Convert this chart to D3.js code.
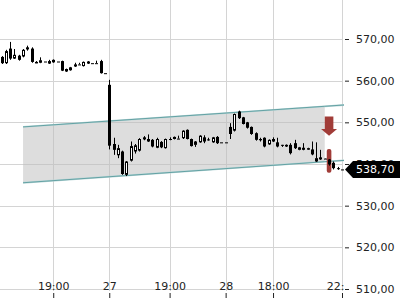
<!DOCTYPE html>
<html>
<head>
<meta charset="utf-8">
<script src="https://cdn.jsdelivr.net/npm/d3@7"></script>
<style>
  body { margin: 0; background: #fff; }
  svg { display: block; font-family: "DejaVu Sans", sans-serif; }
</style>
</head>
<body>
<svg id="chart"></svg>
<script>
// 15 minute candles, index based (gaps at night are not shown)
const opens  = [565.7,564.2,567.7,565.3,566.0,565.8,568.0,567.7,564.4,564.3,564.6,564.1,565.0,564.6,564.7,562.2,562.5,563.4,563.9,563.5,
                564.1,564.2,564.2,564.7,561.8,559.0,544.8,542.1,543.0,537.4,540.8,543.0,543.2,546.4,546.0,545.8,543.9,545.3,543.8,546.0,
                546.0,546.1,546.2,548.2,546.0,544.6,545.2,546.4,545.9,545.2,546.5,545.2,545.2,548.9,548.0,552.6,551.2,550.0,548.9,547.4,
                546.0,546.3,544.7,546.0,545.2,544.6,544.2,544.6,545.0,543.4,543.9,543.5,543.5,540.6,541.6,541.3,541.1,540.3,539.0,538.7];
const highs  = [565.9,567.4,569.3,567.6,566.2,567.6,568.4,568.0,564.7,565.6,564.6,565.0,565.1,564.6,564.8,562.9,563.3,564.3,564.3,564.6,
                564.7,564.2,564.8,565.0,561.8,560.2,546.3,544.6,543.2,540.7,545.4,544.8,546.2,546.7,547.1,546.0,546.3,545.5,546.1,546.4,
                546.6,546.8,548.1,548.3,546.1,545.5,546.9,546.9,546.3,546.5,546.7,545.2,545.2,549.8,552.1,552.8,551.3,550.1,549.0,547.6,
                546.3,546.4,545.9,546.4,546.3,544.6,544.7,545.0,545.8,544.1,545.0,543.9,545.4,545.2,543.4,541.3,541.2,540.6,539.3,538.7];
const lows   = [564.0,564.0,565.0,565.2,564.8,565.6,567.2,564.3,564.2,564.2,564.6,564.0,564.3,564.6,562.3,562.1,562.4,563.3,563.9,563.4,
                564.0,564.2,564.2,561.7,561.8,543.5,542.2,541.4,537.4,537.1,540.6,542.5,543.0,545.7,545.3,544.0,543.8,543.8,543.7,545.7,
                545.9,546.1,546.0,545.9,544.2,544.1,545.1,545.0,545.6,545.1,544.8,545.2,545.2,546.0,547.8,550.8,549.5,548.5,547.0,545.6,
                545.4,544.0,544.6,545.3,544.0,544.1,544.1,542.3,543.6,543.3,543.3,543.4,542.1,540.5,541.0,541.2,539.6,538.7,538.6,538.7];
const closes = [564.2,567.1,565.3,566.2,565.0,567.4,567.5,564.5,564.5,564.9,564.6,564.7,564.4,564.6,562.4,562.8,563.2,563.9,563.9,564.5,
                564.6,564.2,564.2,561.8,561.8,544.4,543.4,543.8,537.6,540.6,544.3,544.5,546.0,545.9,545.4,544.2,546.0,544.0,546.0,546.0,
                546.5,546.1,548.0,546.0,544.3,545.4,546.8,545.4,545.9,546.4,545.0,545.2,545.2,547.2,552.0,551.0,549.6,548.7,547.2,545.8,
                545.7,544.2,545.8,545.4,544.2,544.6,544.6,542.6,543.8,544.0,543.4,543.8,542.3,541.4,541.1,541.2,539.9,539.0,538.9,538.7];

const xTickIndex  = [12, 25, 39, 52, 63, 79];
const xTickLabels = ["19:00", "27", "19:00", "28", "18:00", "22:00"];
const yTicks = [510, 520, 530, 540, 550, 560, 570];

// trend channel (index, upper, lower); fill stops at the second point
const channelIndex = [5, 75, 80];
const channelUpper = [548.9, 553.85, 554.2];
const channelLower = [535.5, 540.55, 540.9];

// sell signal
const signalIndex = 76;
const signalBar = [543.6, 537.9];
const signalArrow = [551.4, 548.4, 546.8]; // top, head start, tip

const lastPrice = 538.70;

const W = 400, H = 300;
const plotRight = 343;

const fmt = d3.formatLocale({ decimal: ",", thousands: ".", grouping: [3], currency: ["", "€"] }).format(".2f");

const svg = d3.select('#chart').attr('width', W).attr('height', H);

const x = d3.scaleLinear().domain([0, 79]).range([1.5, 342]);
const y = d3.scaleLinear().domain([510, 570]).range([289, 39]);

const defs = svg.append('defs');
defs.append('clipPath').attr('id', 'plot')
  .append('rect').attr('x', 0).attr('y', 0).attr('width', plotRight + 1).attr('height', H);
// the x axis group is shifted down, so its clip box reaches upward
defs.append('clipPath').attr('id', 'xclip')
  .append('rect').attr('x', 0).attr('y', -30).attr('width', plotRight + 1).attr('height', 40);

// grid
const grid = svg.append('g');
grid.selectAll('.hg').data(yTicks).join('line')
  .attr('x1', 0).attr('x2', plotRight)
  .attr('y1', d => Math.round(y(d)) + 0.5).attr('y2', d => Math.round(y(d)) + 0.5)
  .attr('stroke', '#d4d4d4');
grid.selectAll('.vg').data(xTickIndex).join('line')
  .attr('x1', d => Math.round(x(d)) + 0.5).attr('x2', d => Math.round(x(d)) + 0.5)
  .attr('y1', 0).attr('y2', 291)
  .attr('stroke', '#d4d4d4');

const plot = svg.append('g').attr('clip-path', 'url(#plot)');

// channel
const fillPts = channelIndex.slice(0, 2).map((d, i) => [x(d), y(channelUpper[i])])
  .concat(channelIndex.slice(0, 2).map((d, i) => [x(d), y(channelLower[i])]).reverse());
plot.append('path')
  .attr('d', d3.line()(fillPts) + 'Z')
  .attr('fill', 'rgba(190,190,190,0.52)');

const chLine = d3.line().x(d => x(d[0])).y(d => y(d[1]));
[channelUpper, channelLower].forEach(vals => {
  const pts = channelIndex.map((d, i) => [d, vals[i]]);
  plot.append('path').attr('d', chLine(pts))
    .attr('fill', 'none').attr('stroke', '#b9d6d7').attr('stroke-width', 1.8);
  plot.append('path').attr('d', chLine(pts))
    .attr('fill', 'none').attr('stroke', '#5a9c9e').attr('stroke-width', 0.9);
});

// signal marker
const sx = x(signalIndex);
plot.append('rect')
  .attr('x', sx - 2.3).attr('width', 4.6)
  .attr('y', y(signalBar[0])).attr('height', y(signalBar[1]) - y(signalBar[0]))
  .attr('rx', 2).attr('fill', '#a13c38');

plot.append('path')
  .attr('d', d3.line()([
    [sx - 4.3, y(signalArrow[0])], [sx + 4.3, y(signalArrow[0])],
    [sx + 4.3, y(signalArrow[1])], [sx + 8, y(signalArrow[1])],
    [sx, y(signalArrow[2])],
    [sx - 8, y(signalArrow[1])], [sx - 4.3, y(signalArrow[1])]
  ]) + 'Z')
  .attr('fill', '#a13c38');

// candles
const candles = d3.range(opens.length).map(i => ({
  i, o: opens[i], h: highs[i], l: lows[i], c: closes[i]
}));

const cg = plot.selectAll('.candle').data(candles).join('g');
cg.append('line')
  .attr('x1', d => Math.round(x(d.i)) + 0.5).attr('x2', d => Math.round(x(d.i)) + 0.5)
  .attr('y1', d => y(d.h)).attr('y2', d => y(d.l))
  .attr('stroke', '#000');
cg.append('rect')
  .attr('x', d => Math.round(x(d.i)) - 1 + (d.c > d.o ? 0.5 : 0))
  .attr('width', d => d.c > d.o ? 2 : 3)
  .attr('y', d => {
    const t = y(Math.max(d.o, d.c));
    return d.c > d.o ? t + 0.5 : t;
  })
  .attr('height', d => {
    const hgt = Math.abs(y(d.o) - y(d.c));
    if (d.c > d.o) return Math.max(hgt - 1, 0.5);
    return Math.max(hgt, 1);
  })
  .attr('fill', d => d.c > d.o ? '#fff' : '#000')
  .attr('stroke', d => d.c > d.o ? '#000' : 'none');

// x axis: labels above small ticks
const xa = svg.append('g')
  .attr('transform', 'translate(0,298)')
  .attr('clip-path', 'url(#xclip)')
  .call(d3.axisTop(x).tickValues(xTickIndex)
    .tickFormat((d, i) => xTickLabels[i]).tickSize(5).tickPadding(3));
xa.select('.domain').remove();
xa.selectAll('text').attr('font-size', 11).attr('fill', '#222').attr('font-family', '"DejaVu Sans", sans-serif');
xa.selectAll('line').attr('stroke', '#222');

// y axis on the right
const ya = svg.append('g')
  .attr('transform', `translate(${plotRight + 2},0)`)
  .call(d3.axisRight(y).tickValues(yTicks).tickFormat(fmt).tickSize(4).tickPadding(7));
ya.select('.domain').remove();
ya.selectAll('text').attr('font-size', 11).attr('fill', '#222').attr('font-family', '"DejaVu Sans", sans-serif');
ya.selectAll('line').attr('stroke', '#222');

// last price tag
const ly = y(lastPrice);
svg.append('path')
  .attr('d', d3.line()([[345, ly], [353, ly - 8.5], [W, ly - 8.5], [W, ly + 8.5], [353, ly + 8.5]]) + 'Z')
  .attr('fill', '#000');
svg.append('text')
  .attr('x', 356).attr('y', ly).attr('dy', '0.36em')
  .attr('font-size', 11).attr('fill', '#fff')
  .text(fmt(lastPrice));
</script>
</body>
</html>
